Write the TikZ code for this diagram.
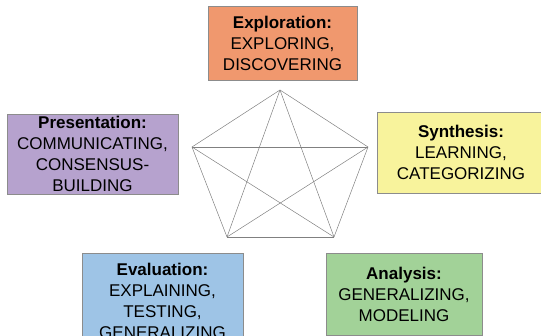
\documentclass[tikz,border=0pt]{standalone}
\usepackage{fontspec}
\setmainfont{Liberation Sans}
\definecolor{explcol}{RGB}{240,152,110}
\definecolor{presecol}{RGB}{182,162,206}
\definecolor{synthcol}{RGB}{248,243,156}
\definecolor{evalcol}{RGB}{158,196,230}
\definecolor{analcol}{RGB}{162,210,152}
\newcommand{\boxline}{black!45}

\begin{document}
\begin{tikzpicture}[x=1pt, y=-1pt,
        phase/.style={draw=\boxline, line width=0.8pt, align=center, inner sep=0pt,
            font=\fontsize{17}{21}\selectfont},
        link/.style={draw=black!50, line width=0.5pt}]
        \useasboundingbox (0,0) rectangle (541,336);
        \clip (0,0) rectangle (541,336);
        % the five phases
        \node[phase, fill=explcol, minimum width=149pt, minimum height=74pt] (expl) at (282.5,43)
            {\textbf{Exploration:}\\EXPLORING,\\DISCOVERING};
        \node[phase, fill=presecol, minimum width=171pt, minimum height=80pt] (prese) at (92.5,154)
            {\textbf{Presentation:}\\COMMUNICATING,\\CONSENSUS-\\BUILDING};
        \node[phase, fill=synthcol, minimum width=168pt, minimum height=81pt] (synth) at (461,152.5)
            {\textbf{Synthesis:}\\LEARNING,\\CATEGORIZING};
        \node[phase, fill=evalcol, minimum width=161pt, minimum height=96pt] (eval) at (162.5,301)
            {\textbf{Evaluation:}\\EXPLAINING,\\TESTING,\\GENERALIZING};
        \node[phase, fill=analcol, minimum width=156pt, minimum height=82pt] (anal) at (404,294)
            {\textbf{Analysis:}\\GENERALIZING,\\MODELING};
        % pentagon with all its diagonals
        \coordinate (top) at (280,90);
        \coordinate (left) at (192,147);
        \coordinate (right) at (368,147);
        \coordinate (botleft) at (227,237);
        \coordinate (botright) at (334,237);
        \foreach \a/\b in {top/left, top/right, top/botleft, top/botright,
                left/right, left/botleft, left/botright,
                right/botleft, right/botright, botleft/botright}
            \draw[link] (\a) -- (\b);
    \end{tikzpicture}
\end{document}
